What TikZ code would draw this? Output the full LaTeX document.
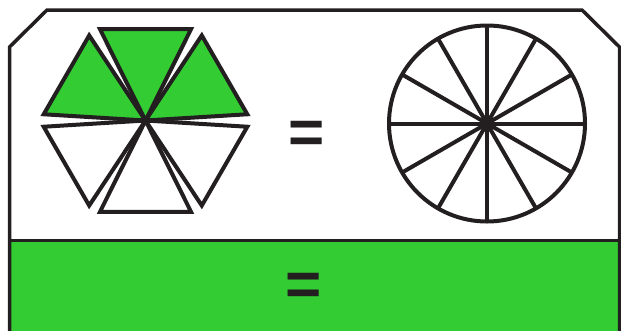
\documentclass[tikz,border=0pt]{standalone}
\usepackage{fontspec}
\setmainfont{Liberation Sans}
\usetikzlibrary{calc}
\definecolor{fracgreen}{HTML}{33CC33}
\definecolor{inkdark}{HTML}{231F20}

\begin{document}
\begin{tikzpicture}[x=1pt, y=-1pt]
  \tikzset{
    frame_line/.style={draw=inkdark, line width=3.5pt},
    piece/.style={draw=inkdark, line width=4pt},
    green_piece/.style={piece, fill=fracgreen},
    equal_sign/.style={inner sep=0pt, text=inkdark, font=\fontsize{62}{62}\selectfont\bfseries}
  }
  \useasboundingbox (0,0) rectangle (621,330);

  % Feld unten (grün)
  \fill[fracgreen] (9.5,240.5) rectangle (619.5,332);

  % Rahmen mit abgeschrägten Ecken
  \draw[frame_line] (9.5,334) -- (9.5,47) -- (47,10) -- (582,10) -- (619.5,47) -- (619.5,334);
  \draw[frame_line, line width=3pt] (9.5,240.5) -- (619.5,240.5);

  % Sechseck aus sechs Dreiecken
  \coordinate (hex) at (145.5,120.5);
  \foreach \a in {-150,-90,-30}
    \draw[green_piece] (hex) -- ++(\a-26.5:102) -- ($(hex)+(\a+26.5:102)$) -- cycle;
  \foreach \a in {30,90,150}
    \draw[piece] (hex) -- ++(\a-26.5:102) -- ($(hex)+(\a+26.5:102)$) -- cycle;

  % Kreis mit zwölf Teilen
  \coordinate (disc) at (487,123.5);
  \draw[piece] (disc) circle (98);
  \foreach \a in {0,30,...,150}
    \draw[piece] ($(disc)+(\a:98)$) -- ($(disc)+(\a+180:98)$);

  % Gleichheitszeichen
  \node[equal_sign] (eq_top) at (307,137) {=};
  \node[equal_sign] (eq_bottom) at (303.7,289.5) {=};
\end{tikzpicture}
\end{document}
